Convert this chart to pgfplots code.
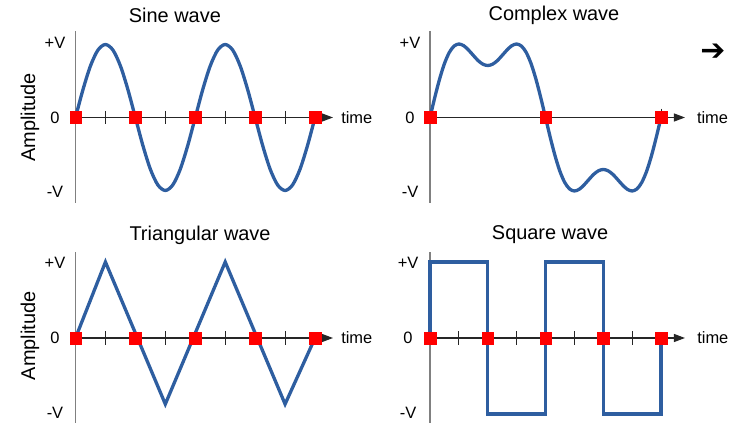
\documentclass[border=0pt]{standalone}
\usepackage{fontspec}
\setmainfont{Liberation Sans}
\newfontfamily\symfont{DejaVu Sans Bold}
\usepackage{pgfplots}
\pgfplotsset{compat=1.18}
\usetikzlibrary{arrows.meta}
\definecolor{wavecol}{RGB}{46,94,160}
\definecolor{axgray}{RGB}{128,128,128}
\newcommand\lab{\fontsize{16.5}{19}\selectfont}
\newcommand\ttl{\fontsize{20}{24}\selectfont}
\tikzset{
  yax/.style={axgray, line width=1.8bp},
  xax/.style={black!85, line width=1.1bp, -{Triangle[length=11bp,width=8bp]}},
  tk/.style={black!85, line width=1bp}
}
\pgfplotsset{
  panel/.style={hide axis, clip=false, enlargelimits=false, anchor=south west,
    ymin=-1, ymax=1, xmin=0},
  wavestyle/.style={color=wavecol, line width=3.3bp, no markers},
  zeros/.style={only marks, mark=square*, mark size=5.8bp, color=red, mark options={draw=red, fill=red}}
}
\begin{document}
\begin{tikzpicture}
\useasboundingbox (0,0) rectangle (730bp,427bp);

% ---------- Sine wave ----------
\begin{axis}[panel, at={(75.5bp,236.5bp)}, xmax=8, x=29.94bp, y=73bp]
\draw[yax] (0,1.18) -- (0,-1.17);
\draw[xax] (0,0) -- (8.6,0);
\draw[tk] (1,0.089) -- (1,-0.089);
\draw[tk] (3,0.089) -- (3,-0.089);
\draw[tk] (5,0.089) -- (5,-0.089);
\draw[tk] (7,0.089) -- (7,-0.089);
\addplot[wavestyle, smooth] coordinates {
(0,0)(0.25,0.3827)(0.5,0.7071)(0.75,0.9239)(1,1)(1.25,0.9239)(1.5,0.7071)(1.75,0.3827)
(2,0)(2.25,-0.3827)(2.5,-0.7071)(2.75,-0.9239)(3,-1)(3.25,-0.9239)(3.5,-0.7071)(3.75,-0.3827)
(4,0)(4.25,0.3827)(4.5,0.7071)(4.75,0.9239)(5,1)(5.25,0.9239)(5.5,0.7071)(5.75,0.3827)
(6,0)(6.25,-0.3827)(6.5,-0.7071)(6.75,-0.9239)(7,-1)(7.25,-0.9239)(7.5,-0.7071)(7.75,-0.3827)(8,0)};
\addplot[zeros] coordinates {(0,0)(2,0)(4,0)(6,0)(8,0)};
\node[anchor=west, inner sep=0pt] at (8.87,0) {\lab time};
\node at (-0.685,1.02) {\lab +V};
\node at (-0.685,0) {\lab 0};
\node at (-0.685,-1.02) {\lab -V};
\node at (3.32,1.40) {\ttl Sine wave};
\node[rotate=90] at (-1.52,0) {\ttl Amplitude};
\end{axis}

% ---------- Complex wave ----------
\begin{axis}[panel, at={(430bp,236bp)}, xmax=4, x=57.75bp, y=73.5bp]
\draw[yax] (0,1.177) -- (0,-1.163);
\draw[xax] (0,0) -- (4.415,0);
\draw[tk] (4,0.12) -- (4,-0.09);
\addplot[wavestyle, smooth] coordinates {
(0,0)(0.0833,0.274)(0.1667,0.525)(0.25,0.733)(0.3333,0.884)(0.4167,0.972)(0.5,1)
(0.5833,0.977)(0.6667,0.918)(0.75,0.845)(0.8333,0.774)(0.9167,0.725)(1,0.707)
(1.0833,0.725)(1.1667,0.774)(1.25,0.845)(1.3333,0.918)(1.4167,0.977)(1.5,1)
(1.5833,0.972)(1.6667,0.884)(1.75,0.733)(1.8333,0.525)(1.9167,0.274)(2,0)
(2.0833,-0.274)(2.1667,-0.525)(2.25,-0.733)(2.3333,-0.884)(2.4167,-0.972)(2.5,-1)
(2.5833,-0.977)(2.6667,-0.918)(2.75,-0.845)(2.8333,-0.774)(2.9167,-0.725)(3,-0.707)
(3.0833,-0.725)(3.1667,-0.774)(3.25,-0.845)(3.3333,-0.918)(3.4167,-0.977)(3.5,-1)
(3.5833,-0.972)(3.6667,-0.884)(3.75,-0.733)(3.8333,-0.525)(3.9167,-0.274)(4,0)};
\addplot[zeros] coordinates {(0,0)(2,0)(4,0)};
\node[anchor=west, inner sep=0pt] at (4.62,0) {\lab time};
\node at (-0.346,1.01) {\lab +V};
\node at (-0.346,0) {\lab 0};
\node at (-0.346,-1.01) {\lab -V};
\node at (2.147,1.395) {\ttl Complex wave};
\node at (4.90,0.89) {\symfont\fontsize{30}{34}\selectfont ➔};
\end{axis}

% ---------- Triangular wave ----------
\begin{axis}[panel, at={(75.5bp,13bp)}, xmax=8, x=29.94bp, y=76bp]
\draw[yax] (0,1.13) -- (0,-1.12);
\draw[xax] (0,0) -- (8.6,0);
\draw[tk] (1,0.086) -- (1,-0.086);
\draw[tk] (3,0.086) -- (3,-0.086);
\draw[tk] (5,0.086) -- (5,-0.086);
\draw[tk] (7,0.086) -- (7,-0.086);
\addplot[wavestyle] coordinates {(0,0)(1,1)(3,-0.87)(5,1)(7,-0.87)(8,0)};
\addplot[zeros] coordinates {(0,0)(2,0)(4,0)(6,0)(8,0)};
\node[anchor=west, inner sep=0pt] at (8.87,0) {\lab time};
\node at (-0.685,0.99) {\lab +V};
\node at (-0.685,0) {\lab 0};
\node at (-0.685,-0.99) {\lab -V};
\node at (4.16,1.355) {\ttl Triangular wave};
\node[rotate=90] at (-1.52,0.03) {\ttl Amplitude};
\end{axis}

% ---------- Square wave ----------
\begin{axis}[panel, at={(430bp,13bp)}, xmax=8, x=28.875bp, y=76bp]
\draw[yax] (0,1.13) -- (0,-1.12);
\draw[xax] (0,0) -- (8.83,0);
\draw[tk] (1,0.086) -- (1,-0.086);
\draw[tk] (3,0.086) -- (3,-0.086);
\draw[tk] (5,0.086) -- (5,-0.086);
\draw[tk] (7,0.086) -- (7,-0.086);
\addplot[wavestyle] coordinates {(0,0)(0,1)(2,1)(2,-1)(4,-1)(4,1)(6,1)(6,-1)(8,-1)(8,0)};
\addplot[zeros] coordinates {(0,0)(2,0)(4,0)(6,0)(8,0)};
\node[anchor=west, inner sep=0pt] at (9.25,0) {\lab time};
\node at (-0.76,0.99) {\lab +V};
\node at (-0.76,0) {\lab 0};
\node at (-0.76,-0.99) {\lab -V};
\node at (4.16,1.355) {\ttl Square wave};
\end{axis}
\end{tikzpicture}
\end{document}
